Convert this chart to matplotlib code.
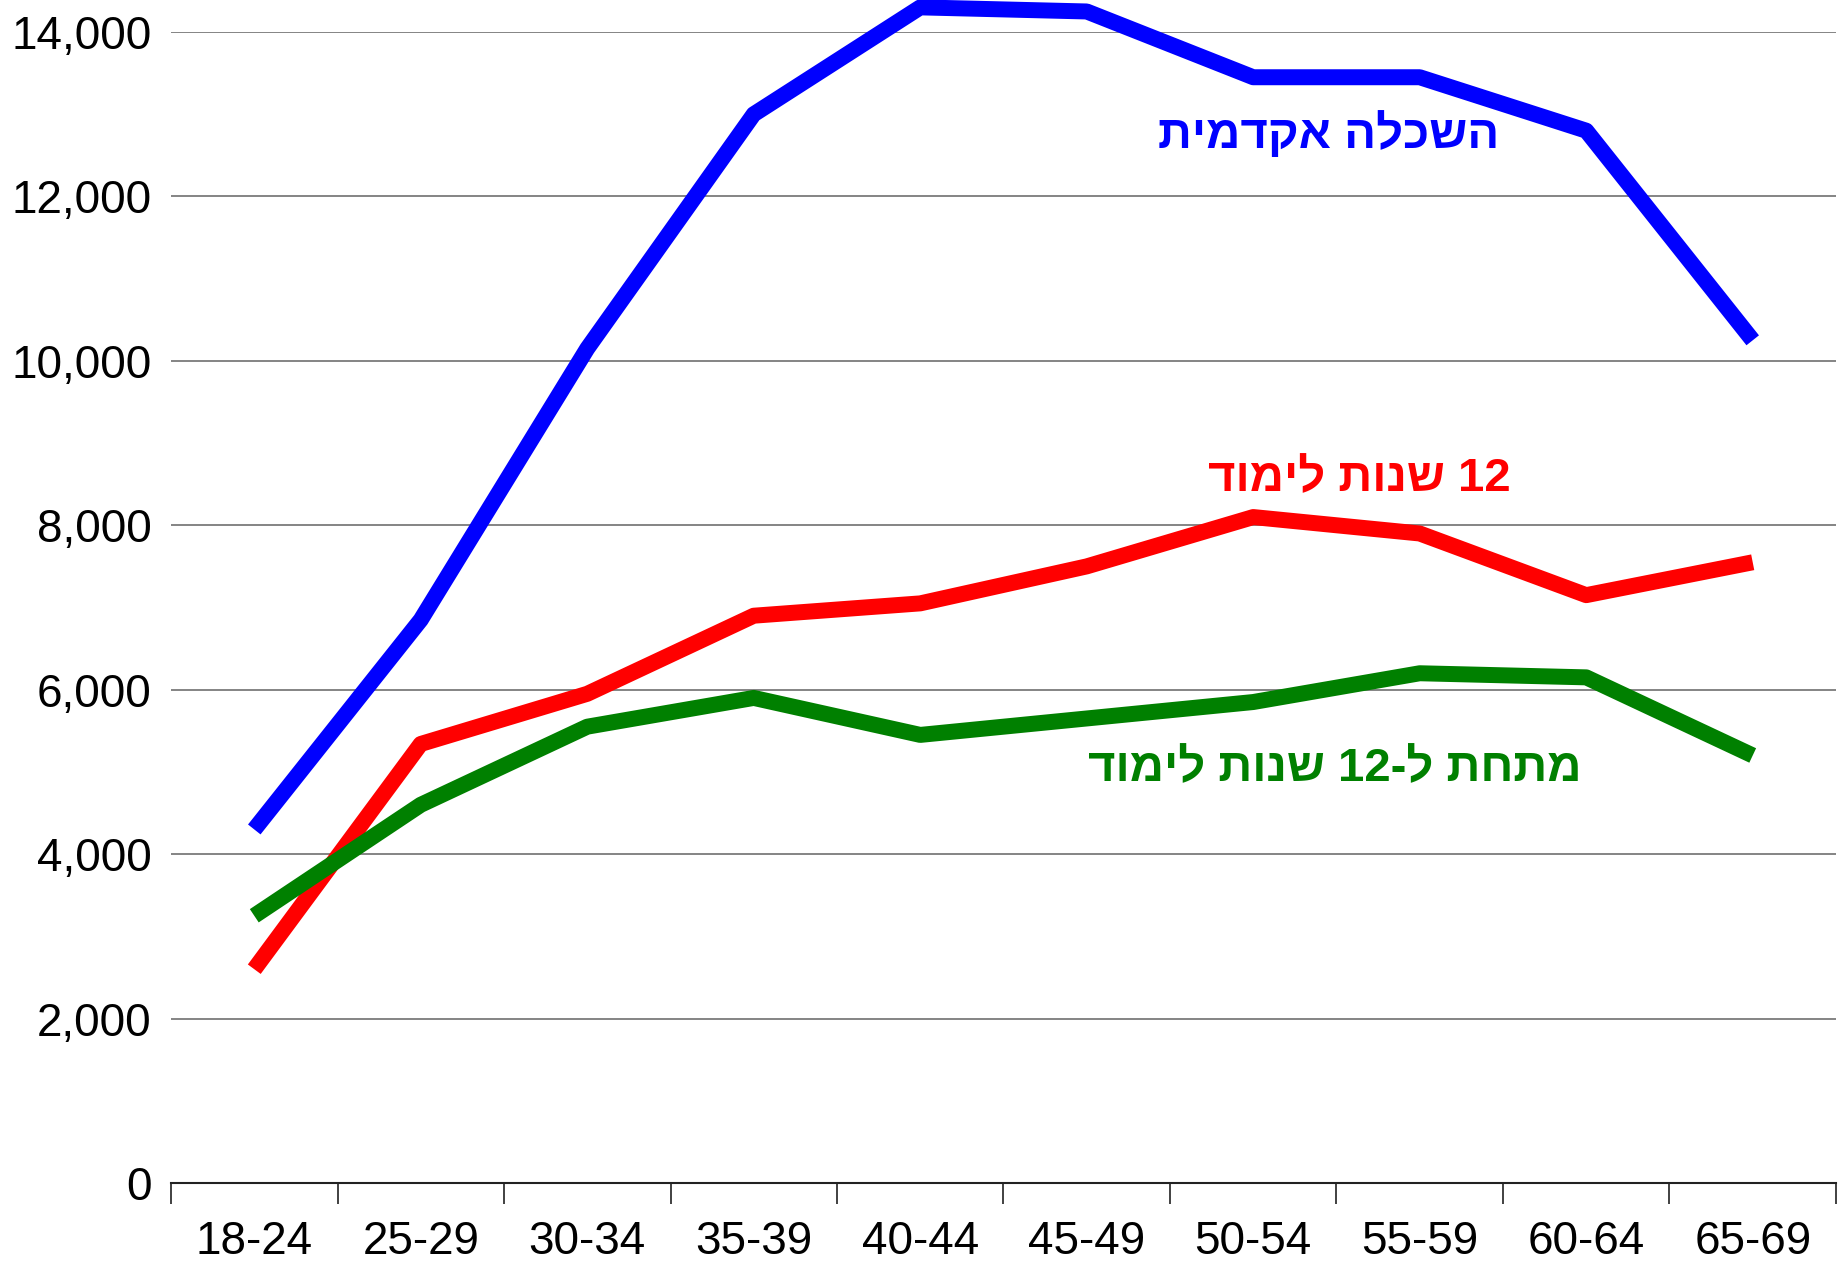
import numpy as np
import matplotlib
matplotlib.use("Agg")
import matplotlib.pyplot as plt

plt.rcParams['font.family'] = ['Liberation Sans', 'DejaVu Sans']

ages = ["18-24", "25-29", "30-34", "35-39", "40-44", "45-49",
        "50-54", "55-59", "60-64", "65-69"]
academic = [4300, 6850, 10150, 13000, 14300, 14250, 13450, 13450, 12800, 10250]
years12 = [2600, 5340, 5950, 6900, 7050, 7500, 8100, 7900, 7150, 7550]
below12 = [3250, 4600, 5550, 5900, 5450, 5650, 5850, 6200, 6150, 5200]

# labels are stored in visual (left-to-right) order since matplotlib has no bidi
lbl_academic = "השכלה אקדמית"[::-1]
lbl_12 = "דומיל תונש 12"
lbl_below = "דומיל תונש 12-ל תחתמ"

fig = plt.figure(figsize=(18.45, 12.61), dpi=100)
ax = fig.add_axes([0.0927, 0.0619, 0.9024, 0.9127])

x = np.arange(len(ages))
lw = 11.5
ax.plot(x, academic, color='#0000FF', lw=lw, clip_on=False, solid_capstyle='butt', zorder=3)
ax.plot(x, years12, color='#FF0000', lw=lw, clip_on=False, solid_capstyle='butt', zorder=3)
ax.plot(x, below12, color='#008000', lw=lw, clip_on=False, solid_capstyle='butt', zorder=3)

ax.set_xlim(-0.5, len(ages) - 0.5)
ax.set_ylim(0, 14000)

ax.set_yticks(np.arange(0, 14001, 2000))
ax.set_yticklabels([f"{v:,}" for v in range(0, 14001, 2000)])
ax.grid(axis='y', color='#707070', lw=1.2)
ax.set_axisbelow(True)

ax.set_xticks(x)
ax.set_xticklabels(ages)
ax.set_xticks(np.arange(-0.5, len(ages)), minor=True)
ax.tick_params(axis='x', which='major', length=0, pad=27, labelsize=33)
ax.tick_params(axis='x', which='minor', length=15, width=1.3, color='#333333', direction='out')
ax.tick_params(axis='y', length=0, pad=14, labelsize=33)

for s in ['top', 'right', 'left']:
    ax.spines[s].set_visible(False)
ax.spines['bottom'].set_color('#222222')
ax.spines['bottom'].set_linewidth(1.5)

ax.text(6.455, 12589, lbl_academic, color='#0000FF', fontsize=34, fontweight='bold',
        ha='center', va='baseline')
ax.text(6.635, 8417, lbl_12, color='#FF0000', fontsize=34, fontweight='bold',
        ha='center', va='baseline')
ax.text(6.49, 4890, lbl_below, color='#008000', fontsize=34, fontweight='bold',
        ha='center', va='baseline')

fig.savefig("out.png", dpi=100)
